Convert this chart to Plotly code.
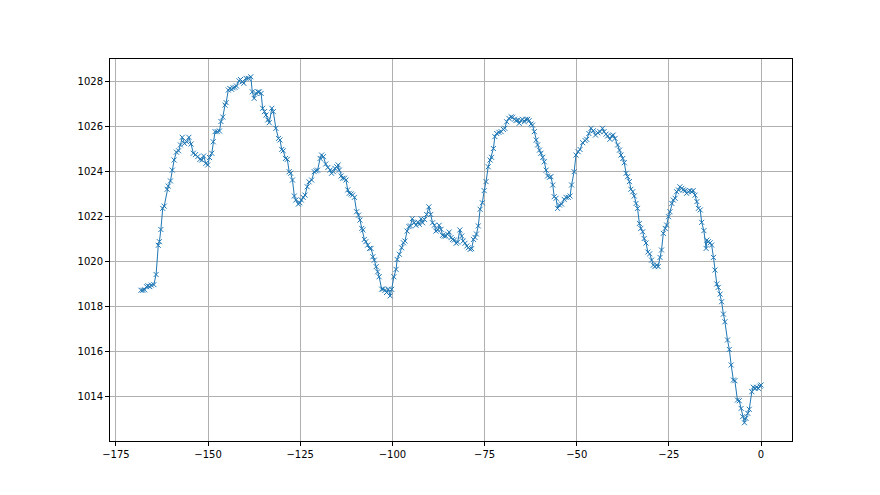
import plotly.graph_objects as go

# hours relative to now, pressure in hPa
hours = [
    -168.2, -167.7, -167.2, -166.7, -166.3, -165.8, -165.4, -164.7, -164.1, -163.5,
    -163.2, -162.8, -162.3, -161.9, -161.1, -160.8, -160.2, -159.7, -159.2, -158.6,
    -158.0, -157.5, -157.0, -156.4, -155.8, -155.2, -154.6, -154.0, -153.4, -152.8,
    -152.2, -151.7, -151.2, -150.6, -150.1, -149.6, -149.0, -148.6, -148.1, -147.5,
    -146.9, -146.5, -146.0, -145.4, -145.1, -144.5, -144.1, -143.6, -143.2, -142.7,
    -142.3, -141.6, -141.2, -140.7, -140.3, -139.7, -139.1, -138.4, -138.0, -137.5,
    -137.0, -136.5, -136.1, -135.6, -135.2, -134.7, -134.3, -133.8, -133.4, -132.7,
    -132.3, -131.6, -130.9, -130.5, -130.0, -129.6, -129.0, -128.5, -128.0, -127.6,
    -127.1, -126.6, -126.2, -125.5, -125.1, -124.7, -124.2, -123.7, -123.1, -122.6,
    -121.9, -121.2, -120.7, -120.3, -119.6, -119.2, -118.7, -118.1, -117.5, -116.9,
    -116.5, -116.0, -115.6, -115.1, -114.7, -114.4, -113.9, -113.5, -113.0, -112.6,
    -112.1, -111.7, -111.2, -110.8, -110.3, -109.7, -109.2, -108.8, -108.3, -108.0,
    -107.6, -107.2, -106.7, -106.2, -105.8, -105.3, -104.9, -104.4, -104.0, -103.6,
    -102.9, -102.5, -102.0, -101.6, -101.1, -100.6, -100.2, -99.6, -99.0, -98.7,
    -98.1, -97.5, -97.0, -96.6, -96.0, -95.5, -95.1, -94.6, -94.1, -93.6,
    -93.1, -92.7, -92.2, -91.8, -91.3, -90.7, -90.1, -89.6, -89.1, -88.6,
    -88.2, -87.7, -87.3, -86.8, -86.4, -85.9, -85.5, -85.0, -84.6, -84.1,
    -83.7, -83.2, -82.7, -82.3, -81.7, -81.2, -80.8, -80.3, -79.8, -79.4,
    -78.9, -78.5, -78.0, -77.6, -77.2, -76.7, -76.2, -75.6, -75.1, -74.6,
    -74.0, -73.5, -73.1, -72.6, -72.2, -71.7, -71.1, -70.5, -69.9, -69.5,
    -69.0, -68.4, -67.8, -67.4, -66.9, -66.5, -66.0, -65.6, -65.1, -64.7,
    -64.2, -63.8, -63.3, -62.9, -62.4, -62.0, -61.5, -61.0, -60.6, -60.1,
    -59.7, -59.2, -58.8, -58.3, -57.9, -57.4, -57.0, -56.5, -56.1, -55.6,
    -55.2, -54.7, -54.1, -53.4, -52.9, -52.3, -51.8, -51.4, -50.7, -50.2,
    -49.6, -49.1, -48.4, -47.7, -47.3, -46.7, -46.1, -45.5, -44.9, -44.3,
    -43.7, -43.0, -42.6, -42.05, -41.6, -41.0, -40.5, -40.1, -39.6, -38.9,
    -38.4, -38.0, -37.5, -37.1, -36.6, -36.2, -35.7, -35.3, -34.8, -34.4,
    -33.9, -33.5, -33.0, -32.6, -32.1, -31.7, -31.2, -30.7, -30.2, -29.7,
    -29.2, -28.8, -28.3, -27.9, -27.4, -27.0, -26.5, -26.0, -25.6, -25.1,
    -24.7, -24.2, -23.8, -23.3, -22.9, -22.4, -22.0, -21.5, -21.1, -20.6,
    -20.2, -19.7, -19.3, -18.8, -18.4, -17.9, -17.4, -17.0, -16.5, -16.1,
    -15.5, -14.9, -14.7, -14.3, -13.8, -13.4, -12.9, -12.5, -12.0, -11.6,
    -11.1, -10.7, -10.2, -9.8, -9.1, -8.6, -8.1, -7.5, -7.1, -6.4,
    -5.9, -5.4, -5.0, -4.5, -4.1, -3.6, -3.2, -2.5, -2.1, -1.6,
    -1.2, -0.7, -0.3, 0.0,
]

pressure = [
    1018.70, 1018.70, 1018.72, 1018.86, 1018.90, 1018.86, 1018.93, 1018.95, 1019.40, 1020.70,
    1020.86, 1021.40, 1022.34, 1022.44, 1023.19, 1023.33, 1023.56, 1024.04, 1024.49, 1024.84,
    1024.90, 1025.16, 1025.50, 1025.23, 1025.30, 1025.50, 1025.20, 1024.79, 1024.73, 1024.64,
    1024.52, 1024.49, 1024.67, 1024.34, 1024.27, 1024.60, 1024.79, 1025.30, 1025.75, 1025.75,
    1025.78, 1026.20, 1026.40, 1026.93, 1027.04, 1027.60, 1027.67, 1027.63, 1027.70, 1027.72,
    1027.78, 1028.01, 1028.07, 1027.97, 1027.90, 1028.12, 1028.12, 1028.19, 1027.52, 1027.23,
    1027.45, 1027.52, 1027.52, 1027.45, 1026.79, 1026.64, 1026.49, 1026.27, 1026.15, 1026.79,
    1026.64, 1025.90, 1025.45, 1025.38, 1024.96, 1024.90, 1024.56, 1024.52, 1023.97, 1023.90,
    1023.60, 1022.89, 1022.71, 1022.53, 1022.59, 1022.71, 1022.83, 1022.93, 1023.30, 1023.52,
    1023.60, 1023.97, 1024.01, 1024.04, 1024.56, 1024.71, 1024.64, 1024.31, 1024.16, 1024.04,
    1023.90, 1023.97, 1024.12, 1024.19, 1024.27, 1024.04, 1023.78, 1023.68, 1023.68, 1023.60,
    1023.16, 1023.01, 1022.98, 1022.93, 1022.83, 1022.19, 1022.04, 1021.82, 1021.45, 1021.38,
    1020.96, 1020.86, 1020.71, 1020.56, 1020.56, 1020.19, 1020.04, 1019.75, 1019.52, 1019.30,
    1018.75, 1018.75, 1018.70, 1018.60, 1018.75, 1018.45, 1018.74, 1019.30, 1019.63, 1020.07,
    1020.30, 1020.59, 1020.81, 1020.89, 1021.33, 1021.53, 1021.56, 1021.88, 1021.70, 1021.59,
    1021.73, 1021.63, 1021.88, 1021.70, 1021.85, 1022.07, 1022.41, 1022.07, 1021.70, 1021.59,
    1021.33, 1021.38, 1021.59, 1021.41, 1021.14, 1021.11, 1021.11, 1021.19, 1021.29, 1021.04,
    1020.96, 1020.93, 1020.79, 1020.84, 1021.38, 1021.11, 1020.89, 1020.79, 1020.67, 1020.59,
    1020.52, 1020.55, 1020.96, 1021.05, 1021.20, 1021.56, 1022.30, 1022.59, 1023.13, 1023.53,
    1024.19, 1024.49, 1024.61, 1025.00, 1025.53, 1025.67, 1025.72, 1025.75, 1025.85, 1025.90,
    1026.19, 1026.34, 1026.41, 1026.39, 1026.30, 1026.24, 1026.27, 1026.12, 1026.24, 1026.30,
    1026.19, 1026.30, 1026.30, 1026.24, 1026.09, 1026.04, 1025.75, 1025.38, 1025.16, 1024.93,
    1024.79, 1024.61, 1024.41, 1024.04, 1023.78, 1023.72, 1023.75, 1023.38, 1022.86, 1022.79,
    1022.34, 1022.49, 1022.53, 1022.74, 1022.83, 1022.83, 1022.89, 1023.38, 1023.97, 1024.71,
    1024.86, 1024.96, 1025.26, 1025.35, 1025.41, 1025.67, 1025.90, 1025.79, 1025.60, 1025.70,
    1025.75, 1025.90, 1025.75, 1025.64, 1025.56, 1025.41, 1025.56, 1025.60, 1025.45, 1025.16,
    1024.93, 1024.71, 1024.56, 1024.37, 1023.90, 1023.75, 1023.53, 1023.19, 1023.08, 1022.89,
    1022.56, 1022.34, 1021.67, 1021.45, 1021.30, 1021.00, 1020.80, 1020.40, 1020.32, 1020.04,
    1019.82, 1019.75, 1019.82, 1019.75, 1020.16, 1020.49, 1021.23, 1021.45, 1021.60, 1021.97,
    1022.19, 1022.56, 1022.71, 1022.79, 1023.08, 1023.16, 1023.30, 1023.23, 1023.16, 1023.13,
    1023.01, 1023.08, 1023.13, 1023.08, 1023.13, 1022.93, 1022.64, 1022.34, 1022.27, 1021.72,
    1021.35, 1020.56, 1020.93, 1020.86, 1020.81, 1020.71, 1020.16, 1019.60, 1018.98, 1018.83,
    1018.53, 1018.19, 1017.64, 1017.30, 1016.49, 1016.07, 1015.38, 1014.71, 1014.68, 1013.82,
    1013.79, 1013.45, 1013.08, 1012.81, 1013.01, 1013.23, 1013.41, 1014.19, 1014.39, 1014.34,
    1014.39, 1014.34, 1014.44, 1014.49,
]

x_ticks = [-175, -150, -125, -100, -75, -50, -25, 0]
y_ticks = [1014, 1016, 1018, 1020, 1022, 1024, 1026, 1028]

BLUE = '#1f77b4'

fig = go.Figure()
fig.add_scatter(
    x=hours, y=pressure, mode='lines+markers',
    line=dict(color=BLUE, width=1),
    marker=dict(symbol='x-thin', size=5, color=BLUE, line=dict(width=1, color=BLUE)),
)

axis_style = dict(
    showgrid=True, gridcolor='#b0b0b0', gridwidth=0.8,
    showline=True, linecolor='black', linewidth=1, mirror=True,
    ticks='outside', ticklen=4, tickcolor='black', tickwidth=1,
    zeroline=False, tickfont=dict(family='DejaVu Sans', size=10, color='black'),
)

fig.update_xaxes(range=[-176.6, 8.4], tickvals=x_ticks, **axis_style)
fig.update_yaxes(range=[1012.0, 1028.98], tickvals=y_ticks, **axis_style)

# page body adds 8px offset, so margins are shifted to keep the plot box in place
fig.update_layout(
    width=880, height=495,
    margin=dict(l=102, r=96, t=51, b=62),
    paper_bgcolor='white', plot_bgcolor='white',
    showlegend=False,
)

fig.write_html("out.html")
